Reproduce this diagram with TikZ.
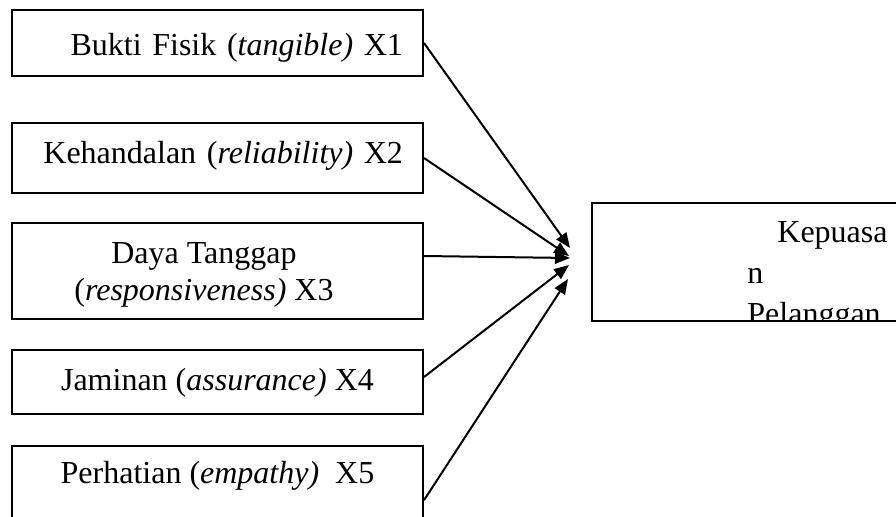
\documentclass[tikz,border=0pt]{standalone}
\usepackage{fontspec}
\setmainfont{Liberation Serif}
\usetikzlibrary{positioning,arrows.meta}

\begin{document}
\begin{tikzpicture}[x=0.5pt, y=-0.5pt, node distance=14pt,
		var/.style={draw, line width=1pt, rectangle, minimum width=205.5pt, inner sep=0pt, font=\fontsize{16}{18.5}\selectfont},
		conn/.style={-{Triangle[length=7.5pt, width=6pt]}, line width=1pt}]
		\useasboundingbox (0,0) rectangle (896,516);

		\node[var, anchor=north west, minimum height=33pt, text width=185.5pt, align=right, text height=12pt, text depth=0pt] (b1) at (11,9) {Bukti Fisik (\textit{tangible)} X1};
		\node[var, below=22.5pt of b1, minimum height=35pt, text width=185.5pt, align=right, text height=8pt, text depth=3pt] (b2) {Kehandalan (\textit{reliability)} X2};
		\node[var, below=of b2, minimum height=48pt, align=center, text height=30pt, text depth=1pt] (b3) {Daya Tanggap\hspace*{13.5pt}\\(\textit{responsiveness)} X3\hspace*{13.5pt}};
		\node[var, below=14.5pt of b3, minimum height=32pt, text height=11pt, text depth=3pt] (b4) {Jaminan (\textit{assurance)} X4};
		\node[var, below=15pt of b4, minimum height=35.8pt, text height=5pt, text depth=3pt] (b5) {Perhatian (\textit{empathy)}\ \ X5};

		\begin{scope}
			\clip (580,190) rectangle (910,321);
			\node[var, anchor=north west, minimum width=160pt, minimum height=59pt] (kp) at (591,202) {};
			\node[anchor=base west, inner sep=0pt, align=left, font=\fontsize{16}{20.5}\selectfont] (kpt) at (747,324) {\hspace*{15pt}Kepuasa\\n\\Pelanggan};
		\end{scope}

		\coordinate (t1) at (570,248);
		\coordinate (t2) at (569,256);
		\coordinate (t3) at (570,258);
		\coordinate (t4) at (569,265);
		\coordinate (t5) at (568,279);

		\draw[conn] (b1.east) -- (t1);
		\draw[conn] (b2.east) -- (t2);
		\draw[conn] ([yshift=7.5pt]b3.east) -- (t3);
		\draw[conn] ([yshift=2.5pt]b4.east) -- (t4);
		\draw[conn] ([yshift=-9.2pt]b5.east) -- (t5);
	\end{tikzpicture}
\end{document}
